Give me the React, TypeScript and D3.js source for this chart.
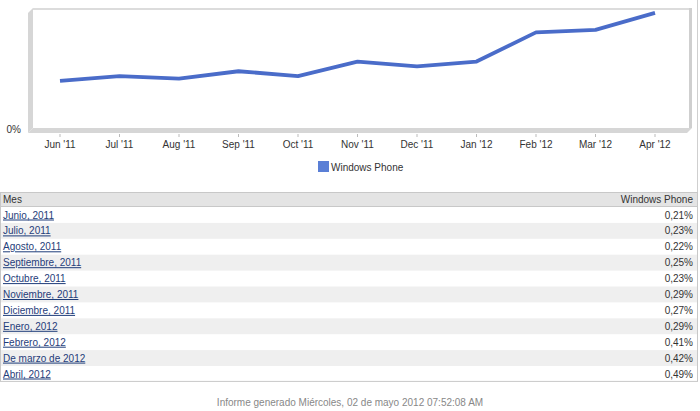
import React from "react";
import * as d3 from "d3";

const months = ["Jun '11", "Jul '11", "Aug '11", "Sep '11", "Oct '11", "Nov '11", "Dec '11", "Jan '12", "Feb '12", "Mar '12", "Apr '12"];
const values = [0.21, 0.23, 0.22, 0.25, 0.23, 0.29, 0.27, 0.29, 0.41, 0.42, 0.49];
const rowLabels = ["Junio, 2011", "Julio, 2011", "Agosto, 2011", "Septiembre, 2011", "Octubre, 2011", "Noviembre, 2011", "Diciembre, 2011", "Enero, 2012", "Febrero, 2012", "De marzo de 2012", "Abril, 2012"];
const seriesName = "Windows Phone";
const yTicks = [0];

const W = 700;
const H = 411;
const FONT = "'Liberation Sans', Arial, sans-serif";

export default function App() {
  const x = d3.scalePoint<string>().domain(months).range([60, 655]);
  const y = d3.scaleLinear().domain([0, 0.5]).range([132, 10.5]);
  const line = d3
    .line<number>()
    .x((_, i) => x(months[i]) as number)
    .y((d) => y(d));

  const fmt = (v: number) => v.toFixed(2).replace(".", ",") + "%";
  const headerTop = 192;
  const headerH = 14;
  const rowH = 15.9;
  const rowsTop = headerTop + headerH;
  const fs = 10;

  return (
    <svg width={W} height={H} style={{ position: "absolute", left: 0, top: 0, background: "#fff" }} fontFamily={FONT}>
      {/* 3D frame */}
      <rect x={33} y={8} width={659} height={120} fill="#fff" />
      <polygon points="28,13 33,8 33,128 28,133" fill="#d6d6d6" />
      <polygon points="33,128 692,128 687,133 28,133" fill="#d6d6d6" />
      <rect x={33} y={8} width={659} height={2} fill="#dcdcdc" />
      <rect x={689} y={8} width={3} height={120} fill="#cfcfcf" />
      <line x1={697.5} y1={0} x2={697.5} y2={381} stroke="#cfcfcf" />

      {yTicks.map((t) => (
        <text key={t} x={21} y={y(t)} dy="0.1em" textAnchor="end" fontSize={fs} fill="#333">
          {t === 0 ? "0%" : fmt(t)}
        </text>
      ))}

      {months.map((m) => (
        <g key={m}>
          <line x1={x(m)} x2={x(m)} y1={134} y2={137} stroke="#bbb" />
          <text x={x(m)} y={148} textAnchor="middle" fontSize={fs} fill="#333">
            {m}
          </text>
        </g>
      ))}

      <path d={line(values) || ""} fill="none" stroke="#4a6cc9" strokeWidth={3.8} strokeLinejoin="round" />

      <rect x={318} y={161} width={11} height={11} fill="#5a7fd6" />
      <text x={331} y={170.5} fontSize={fs} fill="#333">
        {seriesName}
      </text>

      <rect x={0.5} y={headerTop + 0.5} width={697} height={rowsTop + rowH * rowLabels.length - headerTop} fill="#fff" stroke="#c8c8c8" />
      <rect x={1} y={headerTop + 1} width={696} height={headerH - 1} fill="#e4e4e4" />
      <line x1={0} x2={698} y1={rowsTop + 0.5} y2={rowsTop + 0.5} stroke="#c8c8c8" />
      <text x={3} y={headerTop + 11} fontSize={fs} fill="#333">
        Mes
      </text>
      <text x={693} y={headerTop + 11} fontSize={fs} fill="#333" textAnchor="end">
        {seriesName}
      </text>
      {rowLabels.map((lab, i) => {
        const top = rowsTop + 1 + i * rowH;
        return (
          <g key={lab}>
            {i % 2 === 1 && <rect x={1} y={top} width={696} height={rowH} fill="#efefef" />}
            <text x={3} y={top + 11.5} fontSize={fs} fill="#1f3d7a" textDecoration="underline">
              {lab}
            </text>
            <text x={693} y={top + 11.5} fontSize={fs} fill="#333" textAnchor="end">
              {fmt(values[i])}
            </text>
          </g>
        );
      })}

      <text x={350} y={406} textAnchor="middle" fontSize={fs} fill="#888">
        Informe generado Miércoles, 02 de mayo 2012 07:52:08 AM
      </text>
    </svg>
  );
}
